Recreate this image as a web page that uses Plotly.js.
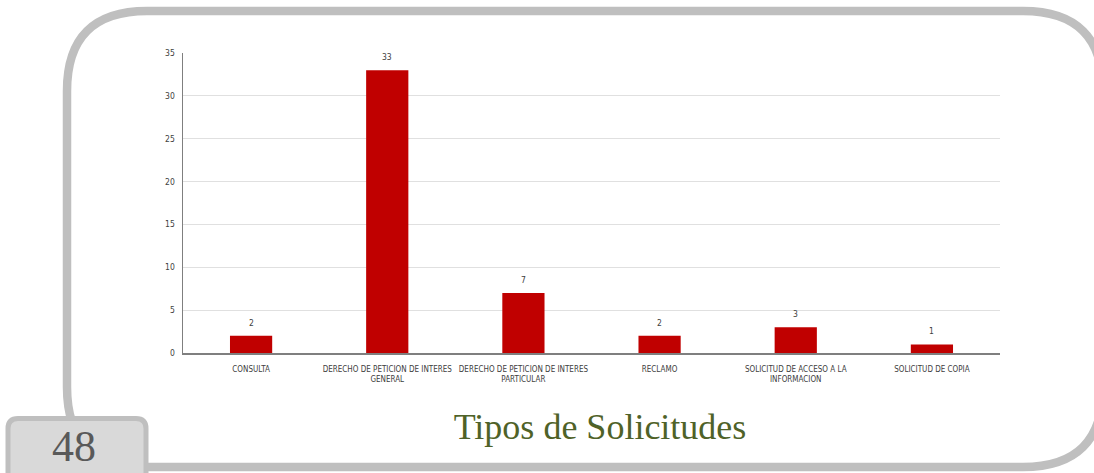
<!DOCTYPE html>
<html><head><meta charset="utf-8">
<script src="https://cdn.plot.ly/plotly-3.0.1.min.js"></script>
<style>html,body{margin:0;padding:0;background:#fff;}#chart{width:1094px;height:473px;}</style>
</head><body><div id="chart"></div>
<script>
const categories = [
  "CONSULTA",
  "DERECHO DE PETICION DE INTERES<br>GENERAL",
  "DERECHO DE PETICION DE INTERES<br>PARTICULAR",
  "RECLAMO",
  "SOLICITUD DE ACCESO A LA<br>INFORMACION",
  "SOLICITUD DE COPIA"
];
const values = [2, 33, 7, 2, 3, 1];
const yTicks = [0, 5, 10, 15, 20, 25, 30, 35];
const titleText = "Tipos de Solicitudes";
const pageNumber = "48";

// plot area in pixels
const L = 183, R = 1000, T = 53, B = 353;
const W = 1094, H = 473;
const px = x => (x - L) / (R - L);
const py = y => (B - y) / (B - T);
function roundRect(x0, y0, x1, y1, r) {
  const p = (x, y) => px(x) + ',' + py(y);
  return 'M' + p(x0 + r, y0) + ' L' + p(x1 - r, y0) + ' Q' + p(x1, y0) + ' ' + p(x1, y0 + r) +
    ' L' + p(x1, y1 - r) + ' Q' + p(x1, y1) + ' ' + p(x1 - r, y1) +
    ' L' + p(x0 + r, y1) + ' Q' + p(x0, y1) + ' ' + p(x0, y1 - r) +
    ' L' + p(x0, y0 + r) + ' Q' + p(x0, y0) + ' ' + p(x0 + r, y0) + ' Z';
}

const narrow = 'Liberation Sans Narrow, DejaVu Sans Condensed, Arial Narrow, sans-serif';
const labelFont = {family: narrow, size: 8, color: '#404040', stretch: 'condensed'};

const trace = {
  type: 'bar',
  x: categories,
  y: values,
  marker: {color: '#c00000'},
  hoverinfo: 'x+y'
};

const valueLabels = categories.map((c, i) => ({
  x: c, y: values[i], xref: 'x', yref: 'y',
  text: String(values[i]), showarrow: false,
  xanchor: 'center', yanchor: 'bottom', yshift: 6,
  font: {family: narrow, size: 8.5, color: '#404040', stretch: 'condensed'}
}));

const layout = {
  width: W, height: H,
  margin: {l: L, r: W - R, t: T, b: H - B, pad: 0},
  paper_bgcolor: '#fff', plot_bgcolor: '#fff',
  bargap: 0.69,
  showlegend: false,
  font: {family: narrow, color: '#595959', size: 8},
  title: {
    text: titleText,
    font: {family: 'Liberation Serif, serif', size: 36, color: '#4f6228'},
    xref: 'container', yref: 'container',
    x: 600 / W, xanchor: 'center',
    y: 1 - 426 / H, yanchor: 'middle'
  },
  xaxis: {
    type: 'category',
    showline: true, linecolor: '#7f7f7f', linewidth: 2,
    ticks: '', showgrid: false, zeroline: false,
    tickangle: 0,
    tickfont: labelFont,
    ticklabelstandoff: 7,
    fixedrange: true
  },
  yaxis: {
    range: [0, 35],
    tickvals: yTicks,
    showline: true, linecolor: '#7f7f7f', linewidth: 1.5,
    showgrid: true, gridcolor: '#e0e0e0', gridwidth: 1,
    zeroline: false, ticks: '',
    tickfont: {family: narrow, size: 8.5, color: '#404040', stretch: 'condensed'},
    ticklabelstandoff: 5,
    fixedrange: true
  },
  shapes: [
    {type: 'path', xref: 'paper', yref: 'paper', layer: 'below',
     path: roundRect(67, 11, 1103, 467, 80),
     line: {color: '#bfbfbf', width: 8.5}, fillcolor: 'rgba(0,0,0,0)'},
    {type: 'path', xref: 'paper', yref: 'paper', layer: 'above',
     path: roundRect(8, 418.5, 146, 490, 10),
     line: {color: '#bfbfbf', width: 5}, fillcolor: '#d9d9d9'}
  ],
  annotations: valueLabels.concat([
    {text: pageNumber, xref: 'paper', yref: 'paper', x: px(74), y: py(446),
     xanchor: 'center', yanchor: 'middle', showarrow: false,
     font: {family: 'Liberation Serif, serif', size: 44, color: '#595959'}}
  ])
};

Plotly.newPlot('chart', [trace], layout, {displayModeBar: false, staticPlot: true});
</script>
</body></html>
